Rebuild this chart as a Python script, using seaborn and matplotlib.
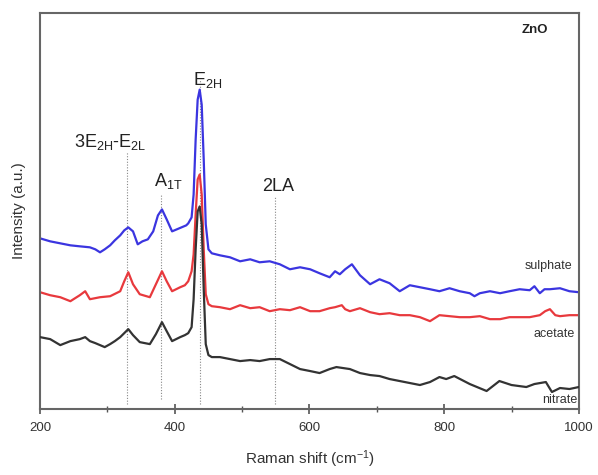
import numpy as np
import pandas as pd
import matplotlib
matplotlib.use("Agg")
import matplotlib.pyplot as plt
from matplotlib.ticker import MultipleLocator
import seaborn as sns

# Raman spectra of ZnO (arbitrary units)
sulphate_x = [200, 215, 230, 245, 259, 274, 282, 289, 296, 304, 311, 319, 325, 331, 338, 345, 352, 360, 368, 375,
              381, 388, 396, 403, 410, 417, 420, 425, 428, 431, 434, 437, 440, 443, 446, 450, 455, 467, 482, 497,
              512, 526, 541, 556, 571, 586, 601, 615, 630, 638, 645, 653, 663, 675, 690, 704, 719, 734, 749, 764,
              779, 793, 808, 823, 838, 845, 853, 868, 883, 897, 912, 927, 934, 942, 949, 957, 972, 986, 1000]
sulphate_y = [171, 168, 166, 164, 163, 162, 160, 157, 160, 164, 169, 174, 179, 182, 178, 165, 168, 170, 178, 194,
              200, 190, 178, 180, 182, 184, 186, 192, 215, 270, 310, 320, 305, 250, 185, 160, 156, 154, 152, 148,
              150, 147, 148, 145, 140, 142, 140, 136, 132, 138, 135, 140, 145, 134, 125, 130, 126, 118, 124, 122,
              120, 118, 121, 118, 116, 113, 116, 118, 116, 118, 120, 119, 123, 116, 120, 120, 121, 118, 117]

acetate_x = [200, 215, 230, 245, 259, 267, 274, 289, 304, 319, 325, 331, 338, 348, 363, 372, 381, 388, 396, 408,
             415, 420, 425, 428, 431, 434, 437, 440, 443, 446, 450, 455, 467, 482, 497, 512, 526, 541, 556, 571,
             586, 601, 615, 630, 638, 648, 653, 660, 675, 690, 704, 719, 734, 749, 764, 779, 793, 808, 823, 838,
             853, 868, 883, 897, 912, 927, 942, 950, 957, 965, 972, 986, 1000]
acetate_y = [117, 114, 112, 108, 114, 118, 110, 112, 113, 118, 128, 137, 125, 115, 112, 125, 138, 128, 118, 122,
             124, 128, 138, 155, 195, 230, 235, 215, 160, 115, 105, 103, 102, 100, 104, 101, 102, 98, 100, 99,
             102, 98, 98, 101, 102, 104, 100, 98, 101, 97, 95, 96, 94, 94, 92, 88, 94, 93, 92, 92,
             93, 90, 90, 92, 92, 92, 94, 98, 100, 94, 93, 94, 94]

nitrate_x = [200, 215, 230, 245, 259, 267, 274, 282, 296, 304, 311, 319, 325, 331, 338, 348, 363, 372, 381, 388,
             396, 408, 415, 420, 425, 428, 431, 434, 437, 440, 443, 446, 450, 455, 467, 482, 497, 512, 526, 541,
             556, 571, 586, 601, 615, 630, 640, 660, 675, 690, 704, 719, 734, 749, 764, 779, 793, 803, 815, 838,
             863, 882, 900, 922, 934, 951, 960, 972, 986, 1000]
nitrate_y = [72, 70, 64, 68, 70, 72, 68, 66, 62, 65, 68, 72, 76, 80, 74, 67, 65, 75, 87, 78,
             68, 72, 74, 76, 82, 110, 160, 198, 203, 185, 120, 65, 54, 52, 52, 50, 48, 49, 48, 50,
             50, 45, 40, 38, 36, 40, 42, 40, 36, 34, 33, 30, 28, 26, 24, 27, 32, 30, 33, 25,
             18, 28, 24, 22, 25, 27, 17, 21, 20, 22]

peak_names = ["3E$_{2H}$-E$_{2L}$", "A$_{1T}$", "E$_{2H}$", "2LA"]
peak_pos = [329, 380, 437, 549]

sns.set_theme(style="ticks")
plt.rcParams['font.family'] = ['Liberation Sans', 'DejaVu Sans']
plt.rcParams['mathtext.default'] = 'regular'

fig = plt.figure(figsize=(5.98, 4.75), dpi=100)
ax = fig.add_axes([0.067, 0.139, 0.901, 0.834])

# guide lines for the peak assignments
guide_ranges = [(5, 258), (10, 215), (5, 330), (5, 213)]
for pos, (lo, hi) in zip(peak_pos, guide_ranges):
    ax.plot([pos, pos], [lo, hi], ls=(0, (1, 1.5)), lw=0.8, color="#888888", zorder=1)

sns.lineplot(x=nitrate_x, y=nitrate_y, color="#333333", lw=1.6, ax=ax, zorder=3)
sns.lineplot(x=acetate_x, y=acetate_y, color="#e8393d", lw=1.6, ax=ax, zorder=2)
sns.lineplot(x=sulphate_x, y=sulphate_y, color="#3b35e0", lw=1.6, ax=ax, zorder=2)

# peak labels
label_xy = [(304, 268), (390, 228), (449, 330), (553, 223)]
for name, (lx, ly) in zip(peak_names, label_xy):
    ax.text(lx, ly, name, ha="center", va="center", fontsize=13, color="#222222")

ax.text(934, 380, "ZnO", ha="center", va="center", fontsize=9.5, fontweight="bold", color="#222222")
ax.text(990, 143, "sulphate", ha="right", va="center", fontsize=9, color="#333333")
ax.text(994, 75, "acetate", ha="right", va="center", fontsize=9, color="#333333")
ax.text(998, 9, "nitrate", ha="right", va="center", fontsize=9, color="#333333")

ax.set_xlim(200, 1000)
ax.set_ylim(0, 397)
ax.set_yticks([])
ax.xaxis.set_major_locator(MultipleLocator(200))
ax.xaxis.set_minor_locator(MultipleLocator(100))
ax.tick_params(axis="x", which="major", direction="inout", length=7, width=1.2, colors="#555555",
               labelsize=9.5, labelcolor="#333333", pad=6)
ax.tick_params(axis="x", which="minor", direction="inout", length=4, width=1.0, colors="#555555")
for s in ax.spines.values():
    s.set_color("#666666")
    s.set_linewidth(1.5)

ax.set_xlabel("Raman shift (cm$^{-1}$)", fontsize=11, color="#333333", labelpad=10)
ax.set_ylabel("Intensity (a.u.)", fontsize=11, color="#333333", labelpad=10)

fig.savefig("out.png", dpi=100)
